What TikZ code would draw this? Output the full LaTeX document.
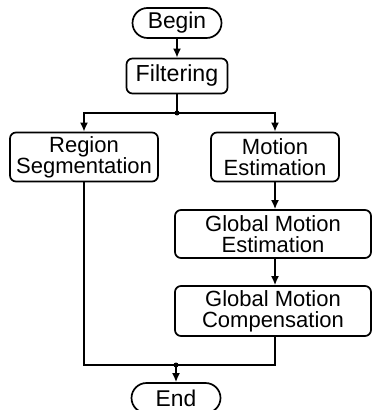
\documentclass[tikz,border=0pt]{standalone}
\usepackage{fontspec}
\setmainfont{Liberation Sans}
\usetikzlibrary{positioning, arrows.meta, calc}

\tikzset{
  box/.style={draw, rounded corners=3pt, align=center, inner sep=0pt, minimum height=24.5pt, font=\fontsize{11}{10.6}\selectfont},
  term/.style={draw, rounded corners=7.5pt, minimum width=44.5pt, minimum height=15pt, inner sep=0pt, font=\fontsize{11.4}{10.6}\selectfont},
  flow/.style={-{Latex[length=4.5pt,width=4pt]}},
  dot/.style={circle, fill, inner sep=0pt, minimum size=2.5pt}
}

\begin{document}
\begin{tikzpicture}[x=0.5pt, y=-0.5pt, line width=0.85pt]
  \useasboundingbox (0,0) rectangle (372,410);
  % boxes
  \node[term] (begin) at (177,23) {Begin};
  \node[box, minimum width=50.5pt, minimum height=17.5pt, font=\fontsize{11.6}{10.6}\selectfont] (filter) at (177,76) {Filtering};
  \node[box, minimum width=74pt] (region) at (84,157) {Region\\Segmentation};
  \node[box, minimum width=64pt] (motion) at (275,157) {Motion\\Estimation};
  \node[box, minimum width=98pt, minimum height=24pt] (gme) at (273,234) {Global Motion\\Estimation};
  \node[box, minimum width=98pt, minimum height=25pt] (gmc) at (273,311) {Global Motion\\Compensation};
  \node[term] (end) at (176,398) {End};
  \coordinate (split) at (177,113);
  \coordinate (merge) at (176,365);
  % connectors
  \draw[flow] (begin) -- (filter);
  \draw (filter) -- (split);
  \draw[flow] (split) -| (region);
  \draw[flow] (split) -| (motion);
  \draw[flow] (motion.south) -- (motion.south |- gme.north);
  \draw[flow] (motion.south |- gme.south) -- (motion.south |- gmc.north);
  \draw (motion.south |- gmc.south) |- (merge);
  \draw (region) |- (merge);
  \draw[flow] (merge) -- (end);
  \node[dot] (splitdot) at (split) {};
  \node[dot] (mergedot) at (merge) {};
\end{tikzpicture}
\end{document}
